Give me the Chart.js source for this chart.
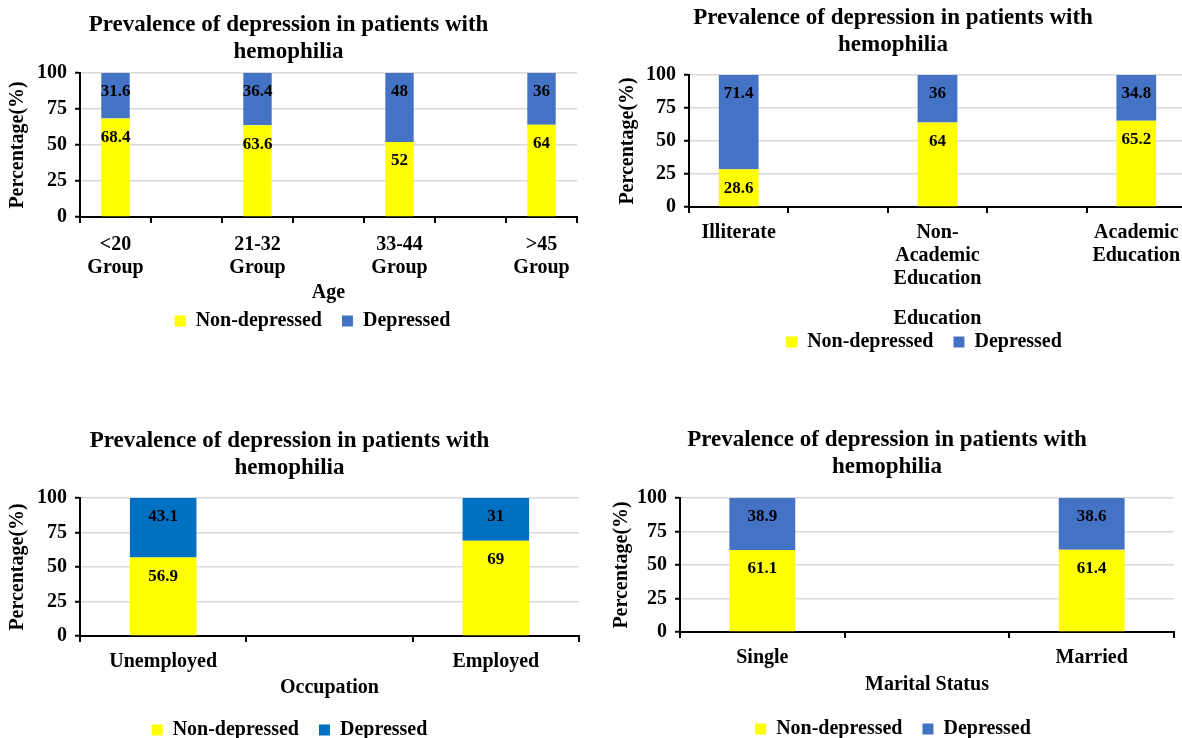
<!DOCTYPE html>
<html>
<head>
<meta charset="utf-8">
<script src="https://cdn.jsdelivr.net/npm/chart.js@4"></script>
<style>
  body { margin: 0; background: #fff; overflow: hidden; width: 1182px; height: 738px; position: relative; }
  canvas { position: absolute; }
</style>
</head>
<body>
<canvas id="ageChart"></canvas>
<canvas id="eduChart"></canvas>
<canvas id="occChart"></canvas>
<canvas id="marChart"></canvas>
<script>
// 데이터
const chartTitle = ['Prevalence of depression in patients with', 'hemophilia'];
const seriesNames = ['Non-depressed', 'Depressed'];
const yTicks = [0, 25, 50, 75, 100];

const ageGroups = [['<20', 'Group'], ['21-32', 'Group'], ['33-44', 'Group'], ['>45', 'Group']];
const ageNonDepressed = [68.4, 63.6, 52, 64];
const ageDepressed = [31.6, 36.4, 48, 36];

const eduGroups = ['Illiterate', ['Non-', 'Academic', 'Education'], ['Academic', 'Education']];
const eduNonDepressed = [28.6, 64, 65.2];
const eduDepressed = [71.4, 36, 34.8];

const occGroups = ['Unemployed', 'Employed'];
const occNonDepressed = [56.9, 69];
const occDepressed = [43.1, 31];

const marGroups = ['Single', 'Married'];
const marNonDepressed = [61.1, 61.4];
const marDepressed = [38.9, 38.6];

const YELLOW = '#FFFF00';
const BLUE = '#4472C4';
const DARK_BLUE = '#0070C0';
const FONT = "'Liberation Serif', 'Times New Roman', serif";

Chart.defaults.font.family = FONT;
Chart.defaults.font.weight = 'bold';
Chart.defaults.color = '#000';

// 빈 칸을 사이사이에 끼워 넣음 (엑셀 원본처럼 막대 사이 간격)
function spread(arr, gap) {
    return arr.flatMap((v, i) => i === 0 ? [v] : [gap, v]);
}

// 막대 안쪽 끝에 값 표시
const barLabels = {
    id: 'barLabels',
    afterDatasetsDraw(chart) {
        const ctx = chart.ctx;
        ctx.save();
        ctx.font = `bold 17px ${FONT}`;
        ctx.fillStyle = '#000';
        ctx.textAlign = 'center';
        ctx.textBaseline = 'middle';
        chart.data.datasets.forEach((ds, i) => {
            chart.getDatasetMeta(i).data.forEach((bar, j) => {
                const v = ds.data[j];
                if (v == null) return;
                ctx.fillText(String(v), bar.x, bar.y + 19);
            });
        });
        ctx.restore();
    }
};

// 범례를 가로로 조금 옮김
const legendShift = {
    id: 'legendShift',
    afterLayout(chart, args, opts) {
        const lg = chart.legend;
        if (!lg || !opts.dx) return;
        lg.left += opts.dx;
        lg.right += opts.dx;
    }
};

function makeChart(id, box, labels, nonDep, dep, blue, axisTitle) {
    const el = document.getElementById(id);
    el.width = box.w;
    el.height = box.h;
    el.style.left = box.x + 'px';
    el.style.top = box.y + 'px';

    return new Chart(el, {
        type: 'bar',
        data: {
            labels: spread(labels, ''),
            datasets: [
                { label: seriesNames[0], data: spread(nonDep, null), backgroundColor: YELLOW, borderWidth: 0 },
                { label: seriesNames[1], data: spread(dep, null), backgroundColor: blue, borderWidth: 0 }
            ]
        },
        options: {
            responsive: false,
            animation: false,
            devicePixelRatio: 1,
            layout: { padding: { left: 0, right: box.padRight, top: 0, bottom: 0 } },
            datasets: { bar: { barPercentage: 0.4, categoryPercentage: 1 } },
            plugins: {
                title: {
                    display: true,
                    text: chartTitle,
                    font: { size: 23, weight: 'bold', lineHeight: 1.15 },
                    color: '#000',
                    padding: { top: box.titleTop, bottom: box.titleBottom }
                },
                legend: {
                    position: 'bottom',
                    labels: {
                        boxWidth: 11,
                        boxHeight: 11,
                        padding: 20,
                        color: '#000',
                        font: { size: 20, weight: 'bold' }
                    }
                },
                legendShift: { dx: box.legendDx },
                tooltip: { enabled: false }
            },
            scales: {
                x: {
                    stacked: true,
                    grid: { drawOnChartArea: false, drawTicks: true, tickLength: 6, tickColor: '#000', lineWidth: 2 },
                    border: { color: '#000', width: 2 },
                    ticks: {
                        autoSkip: false,
                        maxRotation: 0,
                        padding: box.tickPad,
                        color: '#000',
                        font: { size: 20, weight: 'bold', lineHeight: 1.15 }
                    },
                    title: {
                        display: true,
                        text: axisTitle,
                        color: '#000',
                        font: { size: 20, weight: 'bold', lineHeight: 1.2 },
                        padding: { top: box.xtTop, bottom: box.xtBottom }
                    }
                },
                y: {
                    stacked: true,
                    min: 0,
                    max: 100,
                    afterBuildTicks: s => { s.ticks = yTicks.map(v => ({ value: v })); },
                    afterFit: s => { s.width = box.yWidth; },
                    grid: { color: '#D9D9D9', lineWidth: 1.5, tickColor: '#000', tickLength: 5, tickWidth: 2 },
                    border: { color: '#000', width: 2 },
                    ticks: { padding: 8, color: '#000', font: { size: 20, weight: 'bold' } },
                    title: {
                        display: true,
                        text: 'Percentage(%)',
                        color: '#000',
                        font: { size: 20, weight: 'bold', lineHeight: 1.2 },
                        padding: { top: box.ytPad, bottom: 0 }
                    }
                }
            }
        },
        plugins: [barLabels, legendShift]
    });
}

makeChart('ageChart',
    { x: 0, y: 0, w: 584, h: 341, padRight: 7, titleTop: 12, titleBottom: 8, yWidth: 80, ytPad: 6,
      tickPad: 10, xtTop: -8, xtBottom: -14, legendDx: 24 },
    ageGroups, ageNonDepressed, ageDepressed, BLUE, 'Age');

makeChart('eduChart',
    { x: 600, y: 0, w: 596, h: 362, padRight: 10, titleTop: 5, titleBottom: 17, yWidth: 89, ytPad: 16,
      tickPad: 8, xtTop: 9, xtBottom: -19, legendDx: 31 },
    eduGroups, eduNonDepressed, eduDepressed, BLUE, 'Education');

makeChart('occChart',
    { x: 0, y: 420, w: 584, h: 330, padRight: 5, titleTop: 8, titleBottom: 17, yWidth: 80, ytPad: 6,
      tickPad: 8, xtTop: -5, xtBottom: 0, legendDx: 0 },
    occGroups, occNonDepressed, occDepressed, DARK_BLUE, 'Occupation');

makeChart('marChart',
    { x: 600, y: 420, w: 578, h: 329, padRight: 4, titleTop: 7, titleBottom: 18, yWidth: 80, ytPad: 10,
      tickPad: 8, xtTop: -4, xtBottom: 2, legendDx: 6 },
    marGroups, marNonDepressed, marDepressed, BLUE, 'Marital Status');
</script>
</body>
</html>
